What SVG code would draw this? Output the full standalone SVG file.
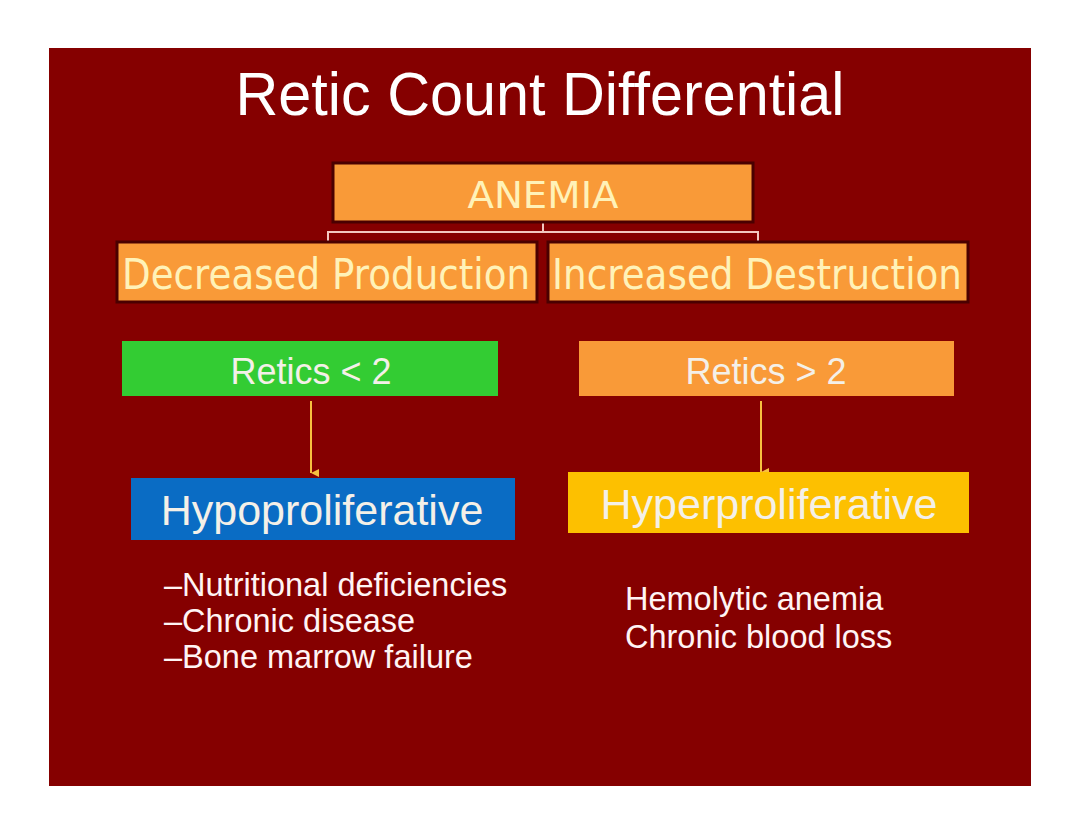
<svg xmlns="http://www.w3.org/2000/svg" width="1080" height="836" viewBox="0 0 1080 836">
<defs>
<style>
.orange{fill:#F99A38;stroke:#4a0000;stroke-width:3}
.cream{fill:#FFF2B8;font-family:"DejaVu Sans",Verdana,sans-serif;text-anchor:middle}
.lbl{fill:#F4F0E8;font-family:"Liberation Sans",Arial,sans-serif;text-anchor:middle}
.list{fill:#FFF4F4;font-family:"Liberation Sans",Arial,sans-serif;font-size:32.5px}
.conn{stroke:#F2C8C0;stroke-width:2;fill:none}
.arr{stroke:#F6C040;stroke-width:2;fill:none}
</style>
<marker id="ah" markerWidth="10" markerHeight="10" refX="5" refY="8" orient="auto" markerUnits="userSpaceOnUse">
<path d="M1,0 L5,8 L9,0 Z" fill="#F6C040"/>
</marker>
</defs>
<rect width="1080" height="836" fill="#FFFFFF"/>
<rect x="49" y="48" width="982" height="738" fill="#850000"/>
<text x="540" y="115" fill="#FFFFFF" font-family="Liberation Sans, Arial, sans-serif" font-size="60" text-anchor="middle" textLength="609" lengthAdjust="spacingAndGlyphs" transform="translate(540,115) scale(1,1.03) translate(-540,-115)">Retic Count Differential</text>

<g id="connectors">
<path class="conn" d="M543,222 V232 M328,242 V232 H758 V242"/>
<line class="arr" x1="311" y1="401" x2="311" y2="473" marker-end="url(#ah)"/>
<line class="arr" x1="761" y1="401" x2="761" y2="472" marker-end="url(#ah)"/>
</g>

<g id="anemia">
<rect class="orange" x="333" y="163" width="420" height="59"/>
<text class="cream" x="543" y="208" font-size="38" textLength="151" lengthAdjust="spacingAndGlyphs">ANEMIA</text>
</g>
<g id="decreased">
<rect class="orange" x="117" y="242" width="420" height="60"/>
<text class="cream" x="326" y="289" font-size="42" textLength="408" lengthAdjust="spacingAndGlyphs">Decreased Production</text>
</g>
<g id="increased">
<rect class="orange" x="548" y="242" width="420" height="60"/>
<text class="cream" x="757" y="289" font-size="42" textLength="410" lengthAdjust="spacingAndGlyphs">Increased Destruction</text>
</g>
<g id="retics-low">
<rect x="122" y="341" width="376" height="55" fill="#33CC33"/>
<text class="lbl" x="311" y="384" font-size="36">Retics &lt; 2</text>
</g>
<g id="retics-high">
<rect x="579" y="341" width="375" height="55" fill="#F99A38"/>
<text class="lbl" x="766" y="384" font-size="36">Retics &gt; 2</text>
</g>
<g id="hypo">
<rect x="131" y="478" width="384" height="62" fill="#0A6CC4"/>
<text class="lbl" x="322" y="525" font-size="43">Hypoproliferative</text>
</g>
<g id="hyper">
<rect x="568" y="472" width="401" height="61" fill="#FDC000"/>
<text class="lbl" x="769" y="519" font-size="43" fill="#FFF4C8">Hyperproliferative</text>
</g>
<g id="hypo-list">
<text class="list" x="164" y="596">–Nutritional deficiencies</text>
<text class="list" x="164" y="632">–Chronic disease</text>
<text class="list" x="164" y="668">–Bone marrow failure</text>
</g>
<g id="hyper-list">
<text class="list" x="625" y="610">Hemolytic anemia</text>
<text class="list" x="625" y="648">Chronic blood loss</text>
</g>
</svg>
